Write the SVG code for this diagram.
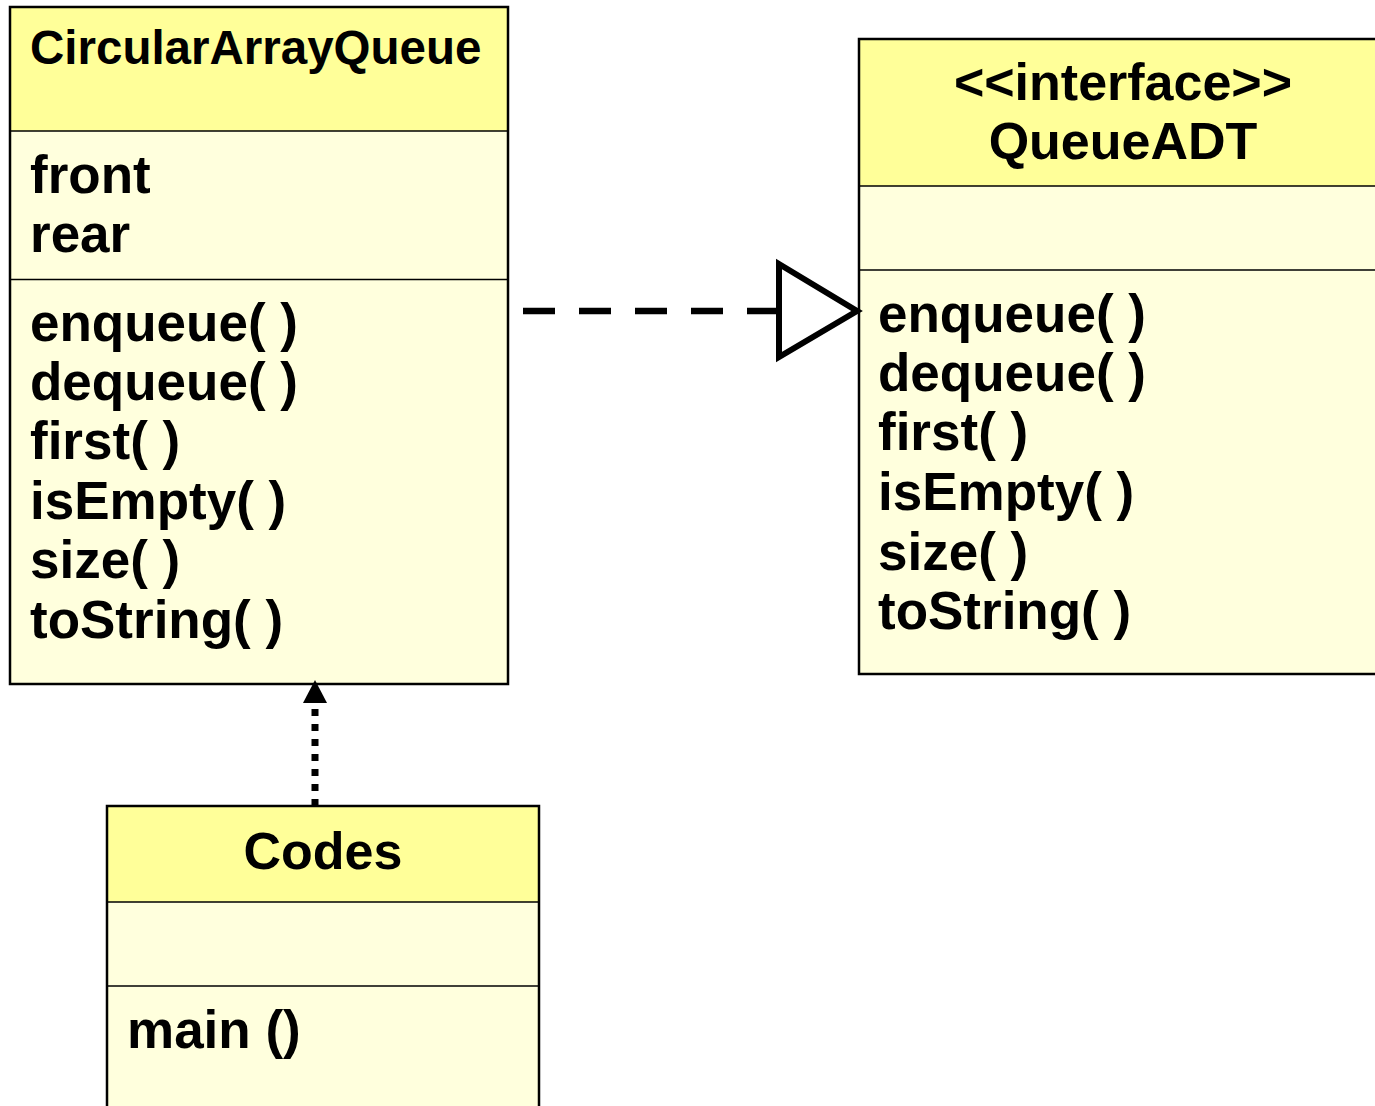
<svg xmlns="http://www.w3.org/2000/svg" width="1375" height="1106" viewBox="0 0 1375 1106">
  <style>
    .hdr { fill: #FFFF99; }
    .body { fill: #FFFFDD; }
    .frame { fill: none; stroke: #000; stroke-width: 2.5; }
    .div { stroke: #000; stroke-width: 1.3; }
    text { font-family: "Liberation Sans", Arial, sans-serif; font-weight: bold; fill: #000; }
    .t { font-size: 53px; }
    .ttl { font-size: 52px; }
    .c { text-anchor: middle; }
  </style>
  <rect width="1375" height="1106" fill="#fff"/>

  <g id="CircularArrayQueue">
    <rect class="hdr" x="10" y="7" width="498" height="124"/>
    <rect class="body" x="10" y="131" width="498" height="553"/>
    <line class="div" x1="10" y1="131" x2="508" y2="131"/>
    <line class="div" x1="10" y1="279.5" x2="508" y2="279.5"/>
    <rect class="frame" x="10" y="7" width="498" height="677"/>
    <text x="30" y="64" font-size="47.5">CircularArrayQueue</text>
    <text class="t" x="30" y="193">front</text>
    <text class="t" x="30" y="252">rear</text>
    <text class="t" x="30" y="341">enqueue( )</text>
    <text class="t" x="30" y="400">dequeue( )</text>
    <text class="t" x="30" y="459">first( )</text>
    <text class="t" x="30" y="519">isEmpty( )</text>
    <text class="t" x="30" y="578">size( )</text>
    <text class="t" x="30" y="638">toString( )</text>
  </g>

  <g id="QueueADT">
    <rect class="hdr" x="859" y="39" width="525" height="147"/>
    <rect class="body" x="859" y="186" width="525" height="488"/>
    <line class="div" x1="859" y1="186" x2="1384" y2="186"/>
    <line class="div" x1="859" y1="270" x2="1384" y2="270"/>
    <rect class="frame" x="859" y="39" width="525" height="635"/>
    <text class="ttl c" x="1123" y="100">&lt;&lt;interface&gt;&gt;</text>
    <text class="ttl c" x="1123" y="159">QueueADT</text>
    <text class="t" x="878" y="332">enqueue( )</text>
    <text class="t" x="878" y="391">dequeue( )</text>
    <text class="t" x="878" y="450">first( )</text>
    <text class="t" x="878" y="510">isEmpty( )</text>
    <text class="t" x="878" y="570">size( )</text>
    <text class="t" x="878" y="629">toString( )</text>
  </g>

  <g id="Codes">
    <rect class="hdr" x="107" y="806" width="432" height="96"/>
    <rect class="body" x="107" y="902" width="432" height="220"/>
    <line class="div" x1="107" y1="902" x2="539" y2="902"/>
    <line class="div" x1="107" y1="986" x2="539" y2="986"/>
    <rect class="frame" x="107" y="806" width="432" height="320"/>
    <text class="ttl c" x="323" y="869">Codes</text>
    <text class="t" x="127" y="1048">main ()</text>
  </g>

  <g id="connectors">
    <g id="realization">
      <line x1="523" y1="311" x2="779" y2="311" stroke="#000" stroke-width="6.5" stroke-dasharray="32 24"/>
      <polygon points="779,264 857,311 779,357" fill="#fff" stroke="#000" stroke-width="6" stroke-linejoin="miter"/>
    </g>
    <g id="dependency">
      <line x1="315" y1="806" x2="315" y2="702" stroke="#000" stroke-width="7" stroke-dasharray="7 8"/>
      <polygon points="315,680 327,703 303,703" fill="#000"/>
    </g>
  </g>
</svg>
